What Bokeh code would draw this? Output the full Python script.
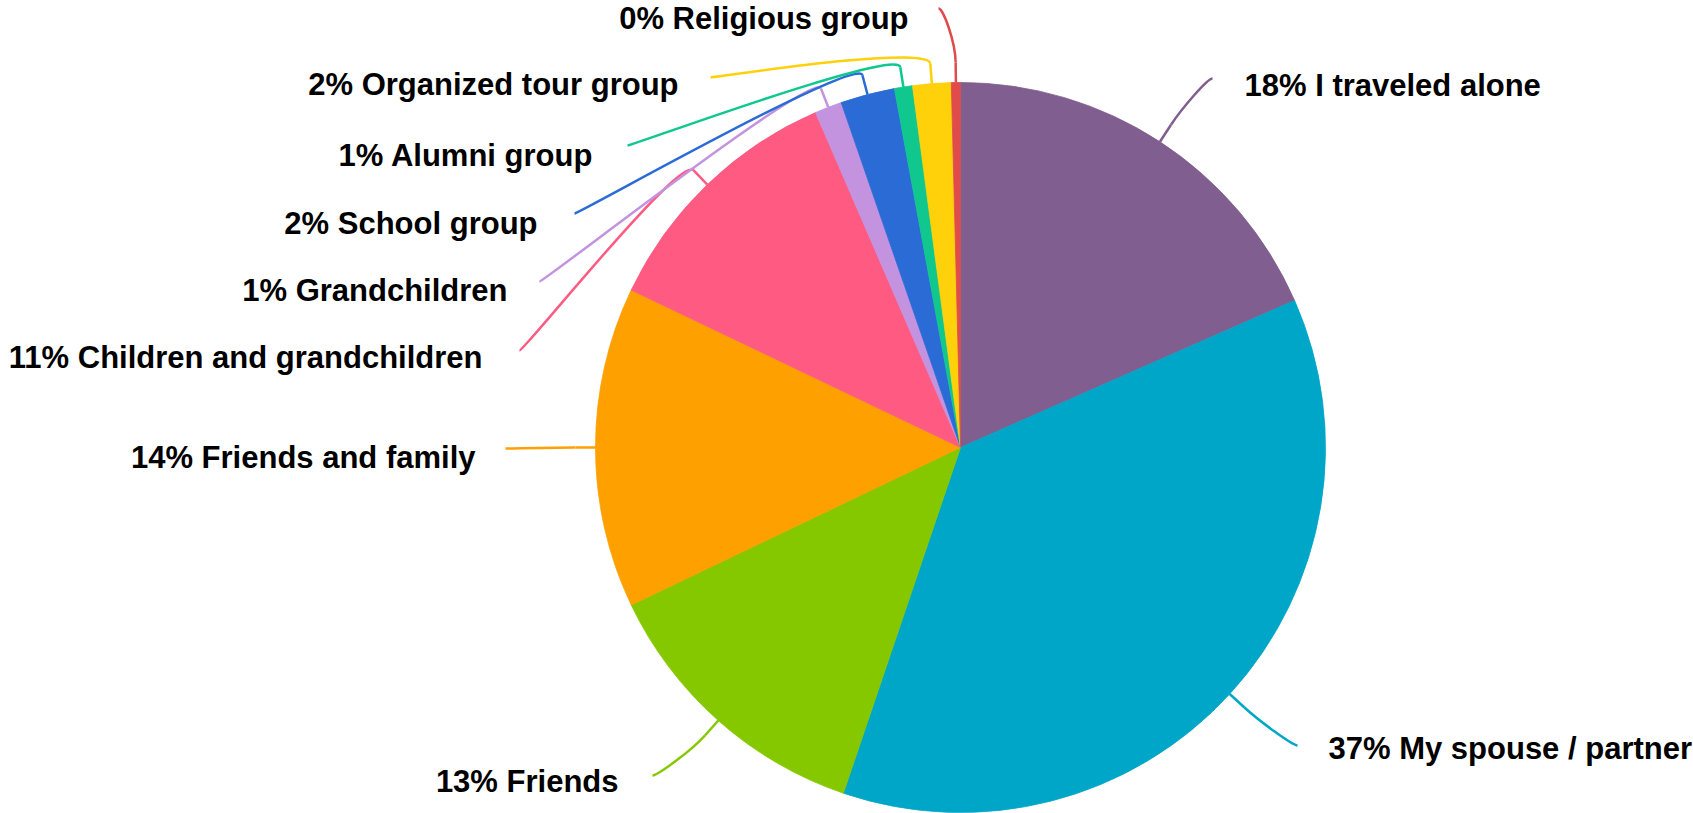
import math
from bokeh.plotting import figure
from bokeh.models import ColumnDataSource, Range1d
from bokeh.core.properties import value
from bokeh.embed import file_html
from bokeh.resources import INLINE

# ---------------- data ----------------
categories = ["I traveled alone", "My spouse / partner", "Friends", "Friends and family",
              "Children and grandchildren", "Grandchildren", "School group", "Alumni group",
              "Organized tour group", "Religious group"]
shares = [18.4, 36.8, 12.7, 14.2, 11.4, 1.2, 2.4, 0.8, 1.7, 0.4]
colors = ["#805E8F", "#00A6C7", "#85C800", "#FEA000", "#FE5A82",
          "#C393E0", "#2A6BD6", "#10C88E", "#FFD10A", "#E04B4B"]

# ---------------- layout (pixels, y measured from top) ----------------
W, H = 1693, 813
CX, CY, R = 960, 447, 365
BREAK = 20
label_side = ["right", "right", "left", "left", "left", "left", "left", "left", "left", "left"]
label_pos = [(1244, 85), (1328, 748), (618, 781), (475, 457), (482, 357),
             (507, 290), (537, 223), (593, 155), (678, 84), (908, 18)]
conn_start = [(1212, 78), (1297, 745), (652, 775), (505, 448), (519, 350),
              (539, 281), (574, 213), (627, 145), (710, 77), (938, 8)]


def fy(py):
    return H - py


total = sum(shares)
starts, ends, mids = [], [], []
c = 0.0
for s in shares:
    f = s / total
    starts.append(math.pi / 2 - 2 * math.pi * c)
    ends.append(math.pi / 2 - 2 * math.pi * (c + f))
    mids.append(2 * math.pi * (c + f / 2))
    c += f

p = figure(width=W, height=H, x_range=Range1d(0, W), y_range=Range1d(0, H),
           output_backend="svg", toolbar_location=None, min_border=0)
p.axis.visible = False
p.grid.visible = False
p.outline_line_color = None
p.background_fill_color = "white"
p.border_fill_color = "white"

wsrc = ColumnDataSource(dict(start=starts, end=ends, color=colors,
                             x=[CX] * len(shares), y=[fy(CY)] * len(shares)))
p.wedge(x="x", y="y", radius=R, radius_units="screen", start_angle="start", end_angle="end",
        direction="clock", fill_color="color", line_color="color", line_width=0.8, source=wsrc)

# connectors
bz = dict(x0=[], y0=[], x1=[], y1=[], cx0=[], cy0=[], cx1=[], cy1=[], color=[])
sg = dict(x0=[], y0=[], x1=[], y1=[], color=[])
for i, th in enumerate(mids):
    ex, ey = CX + R * math.sin(th), CY - R * math.cos(th)
    bx, by = CX + (R + BREAK) * math.sin(th), CY - (R + BREAK) * math.cos(th)
    lx, ly = conn_start[i]
    off = -5 if label_side[i] == "right" else 5
    bz["x0"].append(lx); bz["y0"].append(fy(ly))
    bz["cx0"].append(lx + off); bz["cy0"].append(fy(ly))
    bz["cx1"].append(2 * bx - ex); bz["cy1"].append(fy(2 * by - ey))
    bz["x1"].append(bx); bz["y1"].append(fy(by))
    bz["color"].append(colors[i])
    sg["x0"].append(bx); sg["y0"].append(fy(by))
    sg["x1"].append(ex); sg["y1"].append(fy(ey))
    sg["color"].append(colors[i])

p.bezier(x0="x0", y0="y0", x1="x1", y1="y1", cx0="cx0", cy0="cy0", cx1="cx1", cy1="cy1",
         line_color="color", line_width=2.5, source=ColumnDataSource(bz))
p.segment(x0="x0", y0="y0", x1="x1", y1="y1", line_color="color", line_width=2.5,
          source=ColumnDataSource(sg))

# labels
labels = [f"{round(s / total * 100)}% {cat}" for s, cat in zip(shares, categories)]
for side, align in (("left", "right"), ("right", "left")):
    idx = [i for i in range(len(labels)) if label_side[i] == side]
    src = ColumnDataSource(dict(x=[label_pos[i][0] for i in idx],
                                y=[fy(label_pos[i][1]) for i in idx],
                                t=[labels[i] for i in idx]))
    p.text(x="x", y="y", text="t", source=src, text_align=align, text_baseline="middle",
           text_font=value("Liberation Sans"), text_font_style="bold",
           text_font_size="31px", text_color="#000000")

open("out.html", "w").write(file_html(p, INLINE))
